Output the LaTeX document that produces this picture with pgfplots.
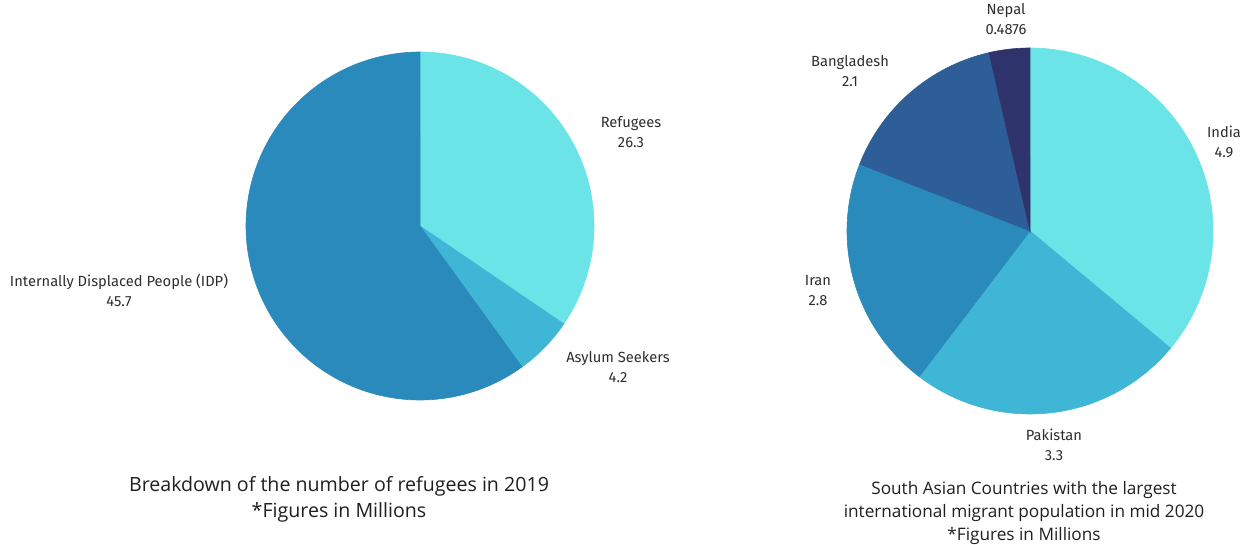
\documentclass[border=0pt]{standalone}
\usepackage{pgfplots}
\pgfplotsset{compat=1.18}
\usepackage{fontspec}
\setmainfont{Open Sans}
\newfontfamily\labfont{Fira Sans}
\definecolor{cLight}{HTML}{6AE4E6}
\definecolor{cMid}{HTML}{40B6D6}
\definecolor{cDark}{HTML}{2A8ABB}
\definecolor{cBang}{HTML}{2D5E97}
\definecolor{cNepal}{HTML}{2E346B}
\definecolor{txt}{HTML}{2E2E2E}
\begin{document}
\begin{tikzpicture}
% left pie: Refugees, Asylum Seekers, IDP (millions)
\pgfmathsetmacro\Ltot{26.3+4.2+45.7}
\pgfmathsetmacro\La{90}
\pgfmathsetmacro\Lb{\La-(26.3/\Ltot)*360}
\pgfmathsetmacro\Lc{\Lb-(4.2/\Ltot)*360}
\pgfmathsetmacro\Ld{\Lc-(45.7/\Ltot)*360}
% right pie: India, Pakistan, Iran, Bangladesh, Nepal
\pgfmathsetmacro\Rtot{4.9+3.3+2.8+2.1+0.4876}
\pgfmathsetmacro\Ra{90}
\pgfmathsetmacro\Rb{\Ra-(4.9/\Rtot)*360}
\pgfmathsetmacro\Rc{\Rb-(3.3/\Rtot)*360}
\pgfmathsetmacro\Rd{\Rc-(2.8/\Rtot)*360}
\pgfmathsetmacro\Re{\Rd-(2.1/\Rtot)*360}
\pgfmathsetmacro\Rf{\Re-(0.4876/\Rtot)*360}
\begin{axis}[
  width=622.5pt, height=272pt, scale only axis,
  xmin=0, xmax=1245, ymin=0, ymax=544,
  hide axis, clip=false,
]
\path (rel axis cs:0,0) rectangle (rel axis cs:1,1);
% left pie
\addplot[fill=cLight, draw=cLight, line width=0.3pt, domain=\Lb:\La, samples=120, variable=\t]
  ({420+174*cos(\t)},{318+174*sin(\t)}) -- (axis cs:420,318) -- cycle;
\addplot[fill=cMid, draw=cMid, line width=0.3pt, domain=\Lc:\Lb, samples=40, variable=\t]
  ({420+174*cos(\t)},{318+174*sin(\t)}) -- (axis cs:420,318) -- cycle;
\addplot[fill=cDark, draw=cDark, line width=0.3pt, domain=\Ld:\Lc, samples=200, variable=\t]
  ({420+174*cos(\t)},{318+174*sin(\t)}) -- (axis cs:420,318) -- cycle;
% right pie
\addplot[fill=cLight, draw=cLight, line width=0.3pt, domain=\Rb:\Ra, samples=120, variable=\t]
  ({1030+183*cos(\t)},{313+183*sin(\t)}) -- (axis cs:1030,313) -- cycle;
\addplot[fill=cMid, draw=cMid, line width=0.3pt, domain=\Rc:\Rb, samples=80, variable=\t]
  ({1030+183*cos(\t)},{313+183*sin(\t)}) -- (axis cs:1030,313) -- cycle;
\addplot[fill=cDark, draw=cDark, line width=0.3pt, domain=\Rd:\Rc, samples=80, variable=\t]
  ({1030+183*cos(\t)},{313+183*sin(\t)}) -- (axis cs:1030,313) -- cycle;
\addplot[fill=cBang, draw=cBang, line width=0.3pt, domain=\Re:\Rd, samples=60, variable=\t]
  ({1030+183*cos(\t)},{313+183*sin(\t)}) -- (axis cs:1030,313) -- cycle;
\addplot[fill=cNepal, draw=cNepal, line width=0.3pt, domain=\Rf:\Re, samples=20, variable=\t]
  ({1030+183*cos(\t)},{313+183*sin(\t)}) -- (axis cs:1030,313) -- cycle;
% labels
\tikzset{lab/.style={align=center, text=txt, inner sep=0pt, font=\labfont\fontsize{7.35}{10}\selectfont}}
\node[lab] at (axis cs:631,412) {Refugees\\26.3};
\node[lab] at (axis cs:618,176.5) {Asylum Seekers\\4.2};
\node[lab] at (axis cs:119,253.5) {Internally Displaced People (IDP)\\45.7};
\node[lab] at (axis cs:1006,524.5) {Nepal\\0.4876};
\node[lab] at (axis cs:850,473) {Bangladesh\\2.1};
\node[lab] at (axis cs:1224,402.5) {India\\4.9};
\node[lab] at (axis cs:818,253.5) {Iran\\2.8};
\node[lab] at (axis cs:1054,99.5) {Pakistan\\3.3};
\node[align=center, text=black!88, inner sep=0pt, font=\fontsize{9.8}{13}\selectfont] at (axis cs:339,45) {Breakdown of the number of refugees in 2019\\*Figures in Millions};
\node[align=center, text=black!88, inner sep=0pt, font=\fontsize{8.6}{11.4}\selectfont] at (axis cs:1024,31) {South Asian Countries with the largest\\international migrant population in mid 2020\\*Figures in Millions};
\end{axis}
\end{tikzpicture}
\end{document}
